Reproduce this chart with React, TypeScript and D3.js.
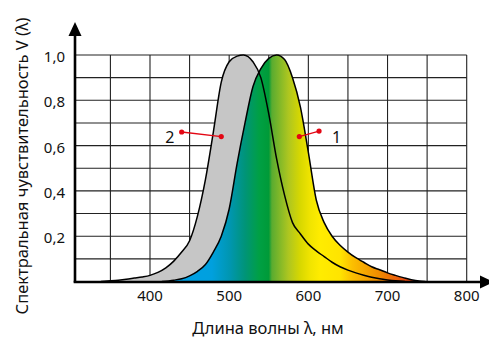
import React from 'react';
import * as d3 from 'd3';

const W = 489;
const H = 339;

const wavelengthTicks = [400, 500, 600, 700, 800];
const sensitivityTicks = [0.2, 0.4, 0.6, 0.8, 1.0];
const gridWavelengths = [350, 400, 450, 500, 550, 600, 650, 700, 750, 800];
const gridSensitivities = [0.1, 0.2, 0.3, 0.4, 0.5, 0.6, 0.7, 0.8, 0.9, 1.0];

// Curve 1 (coloured, day vision)
const curve1Wavelengths = [415, 430, 440, 450, 460, 470, 480, 490, 500, 510, 520, 530, 540, 550, 560, 570, 580, 590, 600, 610, 620, 630, 640, 650, 660, 670, 680, 690, 700, 710, 720, 730, 740, 748];
const curve1Values = [0, 0.006, 0.012, 0.025, 0.045, 0.075, 0.13, 0.2, 0.32, 0.52, 0.7, 0.86, 0.94, 0.985, 1.0, 0.98, 0.9, 0.77, 0.57, 0.36, 0.26, 0.2, 0.16, 0.13, 0.105, 0.085, 0.065, 0.052, 0.038, 0.027, 0.017, 0.008, 0.002, 0];

// Curve 2 (grey, night vision)
const curve2Wavelengths = [338, 350, 360, 370, 380, 390, 400, 410, 420, 430, 440, 450, 460, 470, 480, 490, 500, 510, 518, 530, 540, 550, 560, 570, 580, 590, 600, 610, 620, 630, 640, 650, 660, 670, 680, 690, 700, 710, 722];
const curve2Values = [0, 0.003, 0.006, 0.01, 0.015, 0.02, 0.027, 0.04, 0.06, 0.09, 0.13, 0.18, 0.29, 0.45, 0.66, 0.88, 0.97, 0.995, 1.0, 0.97, 0.9, 0.74, 0.54, 0.38, 0.26, 0.21, 0.165, 0.135, 0.11, 0.085, 0.065, 0.05, 0.038, 0.028, 0.019, 0.012, 0.007, 0.003, 0];

// Callouts: label, outer dot (wavelength, value), curve dot (wavelength, value), label position
const calloutLabels = ['2', '1'];
const calloutOuter = [[440, 0.66], [613.5, 0.664]];
const calloutInner = [[490, 0.64], [588.6, 0.64]];
const calloutText = [[425, 0.64], [635.7, 0.64]];

const spectrumStops: [number, string][] = [
  [430, '#00a0e6'],
  [478, '#00a0de'],
  [501, '#0096b0'],
  [520, '#009478'],
  [538, '#00a044'],
  [550, '#009a38'],
  [554, '#5aac30'],
  [575, '#aec620'],
  [590, '#d8d800'],
  [602, '#f0e400'],
  [615, '#ffec00'],
  [640, '#ffe400'],
  [655, '#fcc000'],
  [690, '#f08a00'],
  [720, '#e85010'],
  [745, '#e03010'],
];

const FONT = '"Noto Sans", "DejaVu Sans", sans-serif';

export default function App() {
  const x = d3.scaleLinear().domain([400, 800]).range([150, 466.7]);
  const y = d3.scaleLinear().domain([0, 1]).range([281.5, 55]);
  const x0 = 75;
  const yBottom = y(0);

  const area = d3
    .area<[number, number]>()
    .x((d) => x(d[0]))
    .y0(yBottom)
    .y1((d) => y(d[1]))
    .curve(d3.curveMonotoneX);
  const line = d3
    .line<[number, number]>()
    .x((d) => x(d[0]))
    .y((d) => y(d[1]))
    .curve(d3.curveMonotoneX);

  const c1 = curve1Wavelengths.map((w, i) => [w, curve1Values[i]] as [number, number]);
  const c2 = curve2Wavelengths.map((w, i) => [w, curve2Values[i]] as [number, number]);

  const fmt = (v: number) => d3.format('.1f')(v).replace('.', ',');

  return (
    <svg width={W} height={H} style={{ position: 'absolute', left: 0, top: 0, background: '#fff' }}>
      <defs>
        <linearGradient id="spectrum" gradientUnits="userSpaceOnUse" x1={x(430)} x2={x(745)} y1={0} y2={0}>
          {spectrumStops.map(([w, c], i) => (
            <stop key={i} offset={(w - 430) / (745 - 430)} stopColor={c} />
          ))}
        </linearGradient>
      </defs>
      <rect width={W} height={H} fill="#fff" />
      {/* grid */}
      <g stroke="#222" strokeWidth={1.1}>
        {gridWavelengths.map((w) => (
          <line key={'v' + w} x1={x(w)} x2={x(w)} y1={y(1)} y2={yBottom} />
        ))}
        {gridSensitivities.map((v) => (
          <line key={'h' + v} x1={x0} x2={x(800)} y1={y(v)} y2={y(v)} />
        ))}
      </g>
      {/* fills */}
      <path d={area(c2) || ''} fill="#c6c6c6" />
      <path d={area(c1) || ''} fill="url(#spectrum)" />
      <path d={line(c2) || ''} fill="none" stroke="#000" strokeWidth={1.5} />
      <path d={line(c1) || ''} fill="none" stroke="#000" strokeWidth={1.5} />
      {/* axes */}
      <line x1={x0} x2={x0} y1={yBottom + 1} y2={32} stroke="#000" strokeWidth={2.6} />
      <path d={`M${x0 - 6.5},${36} L${x0},${22} L${x0 + 6.5},${36} Z`} fill="#000" />
      <line x1={x0 - 1.3} x2={484} y1={yBottom + 0.5} y2={yBottom + 0.5} stroke="#000" strokeWidth={2.6} />
      <path d={`M${480},${yBottom + 0.5 - 6.5} L${494},${yBottom + 0.5} L${480},${yBottom + 0.5 + 6.5} Z`} fill="#000" />
      {/* tick labels */}
      <g fontFamily={FONT} fontSize={15} fill="#111">
        {sensitivityTicks.map((v) => (
          <text key={v} x={65} y={y(v) + 1} textAnchor="end" dominantBaseline="central">
            {fmt(v)}
          </text>
        ))}
        {wavelengthTicks.map((w) => (
          <text key={w} x={x(w)} y={300.5} textAnchor="middle">
            {w}
          </text>
        ))}
      </g>
      {/* axis titles */}
      <text x={268} y={334} textAnchor="middle" fontFamily={FONT} fontSize={16.5} fill="#111">
        Длина волны λ, нм
      </text>
      <text
        transform={`translate(28,166) rotate(-90)`}
        textAnchor="middle"
        fontFamily={FONT}
        fontSize={16.5}
        fill="#111"
      >
        Спектральная чувствительность V (λ)
      </text>
      {/* callouts */}
      {calloutLabels.map((lab, i) => (
        <g key={lab}>
          <line
            x1={x(calloutOuter[i][0])}
            y1={y(calloutOuter[i][1])}
            x2={x(calloutInner[i][0])}
            y2={y(calloutInner[i][1])}
            stroke="#e30613"
            strokeWidth={1.3}
          />
          <circle cx={x(calloutOuter[i][0])} cy={y(calloutOuter[i][1])} r={2.6} fill="#e30613" />
          <circle cx={x(calloutInner[i][0])} cy={y(calloutInner[i][1])} r={2.6} fill="#e30613" />
          <text
            x={x(calloutText[i][0])}
            y={y(calloutText[i][1])}
            textAnchor="middle"
            dominantBaseline="central"
            fontFamily={FONT}
            fontSize={16}
            fill="#111"
          >
            {lab}
          </text>
        </g>
      ))}
    </svg>
  );
}
